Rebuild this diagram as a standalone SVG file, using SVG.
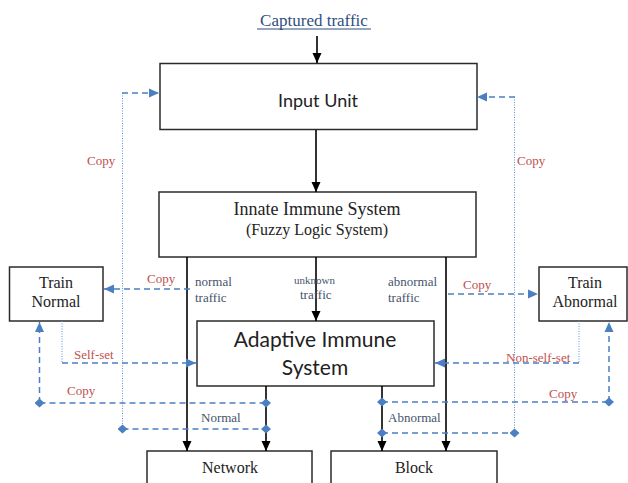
<svg xmlns="http://www.w3.org/2000/svg" width="628" height="483" viewBox="0 0 628 483">
<defs>
<style>
.box{fill:#fff;stroke:#2b2b2b;stroke-width:1.5}
.blk{stroke:#000;stroke-width:1.6;fill:none;marker-end:url(#ab)}
.dash{stroke:#4a7fc1;stroke-width:1.5;stroke-dasharray:6 4;fill:none}
.dot{stroke:#5b93d9;stroke-width:1;stroke-dasharray:1 1.5;fill:none}
.arr{marker-end:url(#au)}
.dia{marker-start:url(#dm);marker-end:url(#dm)}
.serif{font-family:"Liberation Serif","Times New Roman",serif}
.cal{font-family:Lato,"Liberation Sans",sans-serif;fill:#222}
.red{fill:#c0504d;font-size:13px}
.slate{fill:#44546a;font-size:13px}
.node{fill:#222;font-size:16px}
</style>
<marker id="ab" markerUnits="userSpaceOnUse" markerWidth="10" markerHeight="10" refX="10" refY="5" orient="auto"><path d="M0,0.5 L10,5 L0,9.5 z" fill="#000"/></marker>
<marker id="au" markerUnits="userSpaceOnUse" markerWidth="10" markerHeight="10" refX="10" refY="5" orient="auto"><path d="M0,0.5 L10,5 L0,9.5 z" fill="#4a7fc1"/></marker>
<marker id="dm" markerUnits="userSpaceOnUse" markerWidth="10" markerHeight="10" refX="5" refY="5" orient="auto"><path d="M0,5 L5,0.5 L10,5 L5,9.5 z" fill="#4a7fc1"/></marker>
</defs>
<rect width="628" height="483" fill="#fff"/>

<g id="captured">
<text x="314" y="26" text-anchor="middle" class="serif" font-size="17" fill="#2f4f7f">Captured traffic</text>
<line x1="257" y1="29" x2="371" y2="29" stroke="#2f4f7f" stroke-width="1"/>
</g>

<g id="input-unit">
<rect class="box" x="160" y="63.5" width="317" height="66"/>
<text x="318" y="107" text-anchor="middle" class="cal" font-size="18">Input Unit</text>
</g>

<g id="innate">
<rect class="box" x="159" y="192" width="317" height="65"/>
<text x="317" y="215" text-anchor="middle" class="serif node" style="font-size:18px">Innate Immune System</text>
<text x="317" y="235" text-anchor="middle" class="serif node">(Fuzzy Logic System)</text>
</g>

<g id="train-normal">
<rect class="box" x="9.5" y="267" width="93.5" height="54"/>
<text x="56" y="288" text-anchor="middle" class="serif node">Train</text>
<text x="56" y="307" text-anchor="middle" class="serif node">Normal</text>
</g>

<g id="train-abnormal">
<rect class="box" x="539" y="267" width="88" height="54"/>
<text x="585" y="288" text-anchor="middle" class="serif node">Train</text>
<text x="585" y="307" text-anchor="middle" class="serif node">Abnormal</text>
</g>

<g id="adaptive">
<rect class="box" x="197" y="321" width="237" height="65"/>
<text x="315" y="347" text-anchor="middle" class="cal" font-size="21">Adaptive Immune</text>
<text x="315" y="375" text-anchor="middle" class="cal" font-size="21">System</text>
</g>

<g id="network">
<rect class="box" x="147" y="451" width="165" height="40"/>
<text x="230" y="473" text-anchor="middle" class="serif node">Network</text>
</g>

<g id="block">
<rect class="box" x="331" y="451" width="166" height="40"/>
<text x="414" y="473" text-anchor="middle" class="serif node">Block</text>
</g>

<g id="connectors">
<line class="blk" x1="317" y1="36" x2="317" y2="63"/>
<line class="blk" x1="316" y1="130" x2="316" y2="192"/>
<line class="blk" x1="187" y1="257" x2="187" y2="451"/>
<line class="blk" x1="316" y1="257" x2="316" y2="321"/>
<line class="blk" x1="446" y1="257" x2="446" y2="451"/>
<line class="blk" x1="266" y1="386" x2="266" y2="451"/>
<line class="blk" x1="382" y1="386" x2="382" y2="451"/>

<line class="dot" x1="122.5" y1="93" x2="122.5" y2="429"/>
<line class="dash arr" x1="122" y1="93" x2="159" y2="93"/>
<line class="dot" x1="514.5" y1="97" x2="514.5" y2="433"/>
<line class="dash arr" x1="515" y1="97" x2="477" y2="97"/>

<line class="dash arr" x1="190" y1="289" x2="104" y2="289"/>
<line class="dash arr" x1="448" y1="294" x2="538" y2="294"/>

<line class="dot" x1="62" y1="321" x2="62" y2="363"/>
<line class="dash arr" x1="62" y1="363" x2="196" y2="363"/>
<line class="dot" x1="579" y1="321" x2="579" y2="363"/>
<line class="dash arr" x1="579" y1="363" x2="435" y2="363"/>

<line class="dash arr" x1="39.5" y1="403" x2="39.5" y2="322"/>
<line class="dash arr" x1="609" y1="402" x2="609" y2="322"/>

<line class="dash dia" x1="39.5" y1="403" x2="266" y2="403"/>
<line class="dash dia" x1="122.5" y1="429" x2="266" y2="429"/>
<line class="dash dia" x1="382" y1="402" x2="609" y2="402"/>
<line class="dash dia" x1="382" y1="433" x2="514.5" y2="433"/>
</g>

<g id="labels" class="serif">
<text x="87" y="165" class="red">Copy</text>
<text x="517" y="165" class="red">Copy</text>
<text x="147" y="283" class="red">Copy</text>
<text x="463" y="289" class="red">Copy</text>
<text x="74" y="359" class="red">Self-set</text>
<text x="506" y="362" class="red">Non-self-set</text>
<text x="67" y="395" class="red">Copy</text>
<text x="549" y="398" class="red">Copy</text>
<text x="201" y="422" class="slate">Normal</text>
<text x="388" y="422" class="slate">Abnormal</text>
<text x="195" y="286" class="slate">normal</text>
<text x="195" y="302" class="slate">traffic</text>
<text x="294" y="284" class="slate" style="font-size:11px">unknown</text>
<text x="300" y="299" class="slate">traffic</text>
<text x="388" y="286" class="slate">abnormal</text>
<text x="388" y="302" class="slate">traffic</text>
</g>
</svg>
